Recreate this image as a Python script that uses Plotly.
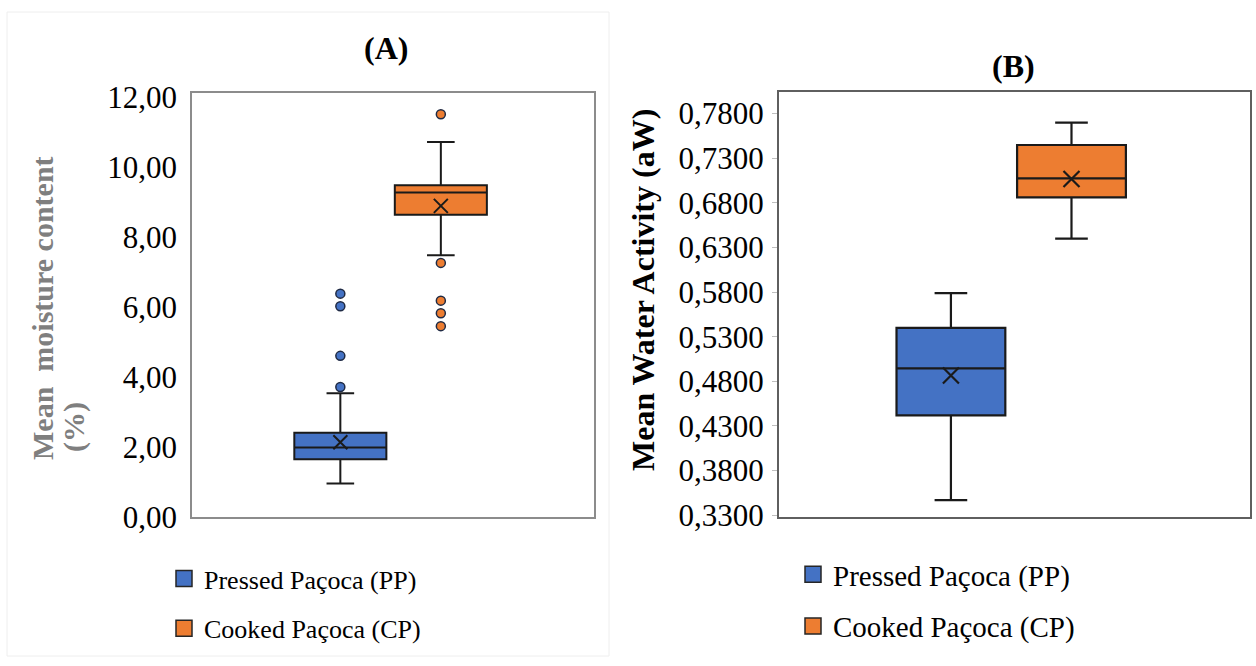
import plotly.graph_objects as go

# ---------------- data ----------------
groups = ["Pressed Paçoca (PP)", "Cooked Paçoca (CP)"]

# Panel A: mean moisture content (%)
moist_lower = [0.96, 7.49]
moist_q1 = [1.65, 8.65]
moist_median = [1.99, 9.28]
moist_q3 = [2.41, 9.49]
moist_upper = [3.54, 10.73]
moist_mean = [2.14, 8.90]
moist_outliers = [
    [3.72, 4.61, 6.03, 6.39],
    [5.46, 5.83, 6.19, 7.27, 11.52],
]
moist_ticks = [0, 2, 4, 6, 8, 10, 12]

# Panel B: mean water activity (aW)
aw_lower = [0.3468, 0.6398]
aw_q1 = [0.4418, 0.6862]
aw_median = [0.4945, 0.7075]
aw_q3 = [0.5400, 0.7448]
aw_upper = [0.5789, 0.7698]
aw_mean = [0.4866, 0.7067]
aw_ticks = [0.33, 0.38, 0.43, 0.48, 0.53, 0.58, 0.63, 0.68, 0.73, 0.78]

# ---------------- styles ----------------
colors = ["#4472C4", "#ED7D31"]
edge = "#1a1a1a"
serif = "Liberation Serif, Times New Roman, serif"
posA = [0.369, 0.619]
posB = [0.365, 0.621]
boxwA = 0.229
boxwB = 0.231

W, H = 1256, 666


def px(x):
    return x / W


def py(y):
    return 1 - y / H


fig = go.Figure()

# Panel A boxes
for i, g in enumerate(groups):
    fig.add_trace(go.Box(
        x=[posA[i]], q1=[moist_q1[i]], median=[moist_median[i]], q3=[moist_q3[i]],
        lowerfence=[moist_lower[i]], upperfence=[moist_upper[i]],
        width=boxwA, whiskerwidth=0.3, fillcolor=colors[i],
        line=dict(color=edge, width=2), boxpoints=False,
        showlegend=False, xaxis="x", yaxis="y", hoverinfo="skip"))
    fig.add_trace(go.Scatter(
        x=[posA[i]] * len(moist_outliers[i]), y=moist_outliers[i], mode="markers",
        marker=dict(symbol="circle", size=9, color=colors[i],
                    line=dict(color="#1f2a44", width=1.5)),
        showlegend=False, xaxis="x", yaxis="y", hoverinfo="skip"))
    fig.add_trace(go.Scatter(
        x=[posA[i]], y=[moist_mean[i]], mode="markers",
        marker=dict(symbol="x-thin", size=14, line=dict(color=edge, width=2)),
        showlegend=False, xaxis="x", yaxis="y", hoverinfo="skip"))

# Panel B boxes
for i, g in enumerate(groups):
    fig.add_trace(go.Box(
        x=[posB[i]], q1=[aw_q1[i]], median=[aw_median[i]], q3=[aw_q3[i]],
        lowerfence=[aw_lower[i]], upperfence=[aw_upper[i]],
        width=boxwB, whiskerwidth=0.3, fillcolor=colors[i],
        line=dict(color=edge, width=2.2), boxpoints=False,
        showlegend=False, xaxis="x2", yaxis="y2", hoverinfo="skip"))
    fig.add_trace(go.Scatter(
        x=[posB[i]], y=[aw_mean[i]], mode="markers",
        marker=dict(symbol="x-thin", size=16, line=dict(color=edge, width=2.2)),
        showlegend=False, xaxis="x2", yaxis="y2", hoverinfo="skip"))

# Legend entries
for i, g in enumerate(groups):
    fig.add_trace(go.Scatter(
        x=[None], y=[None], mode="markers", name=g, legendgroup="a%d" % i,
        marker=dict(symbol="square", size=16, color=colors[i],
                    line=dict(color="#262626", width=1.5)),
        legend="legend", xaxis="x", yaxis="y"))
    fig.add_trace(go.Scatter(
        x=[None], y=[None], mode="markers", name=g, legendgroup="b%d" % i,
        marker=dict(symbol="square", size=16, color=colors[i],
                    line=dict(color="#262626", width=1.5)),
        legend="legend2", xaxis="x2", yaxis="y2"))

frameA = "#8c8c8c"
frameB = "#5f5f5f"

fig.update_layout(
    width=W, height=H,
    margin=dict(l=0, r=0, t=0, b=0, autoexpand=False),
    paper_bgcolor="white", plot_bgcolor="white",
    separators=", ",
    font=dict(family=serif, color="black"),
    xaxis=dict(domain=[px(192), px(594)], range=[0, 1], anchor="y",
               showticklabels=False, showgrid=False, zeroline=False,
               showline=True, mirror=True, linecolor=frameA, linewidth=1.5,
               ticks=""),
    yaxis=dict(domain=[py(517), py(93)], range=[0, 12.13], anchor="x",
               tickvals=moist_ticks, tickformat=".2f",
               tickfont=dict(family=serif, size=31, color="black"),
               showgrid=False, zeroline=False, showline=True, mirror=True,
               linecolor=frameA, linewidth=1.5, ticks="", ticklabelstandoff=7),
    xaxis2=dict(domain=[px(779), px(1250)], range=[0, 1], anchor="y2",
                showticklabels=False, showgrid=False, zeroline=False,
                showline=True, mirror=True, linecolor=frameB, linewidth=2,
                ticks=""),
    yaxis2=dict(domain=[py(517), py(92)], range=[0.328, 0.8042], anchor="x2",
                tickvals=aw_ticks, tickformat=".4f",
                tickfont=dict(family=serif, size=31, color="black"),
                showgrid=False, zeroline=False, showline=True, mirror=True,
                linecolor=frameB, linewidth=2, ticks="outside", ticklen=5,
                tickcolor="#bfbfbf", ticklabelstandoff=2),
    legend=dict(x=px(164), y=py(555), xanchor="left", yanchor="top",
                font=dict(family=serif, size=26, color="black"),
                bgcolor="rgba(0,0,0,0)", traceorder="grouped",
                tracegroupgap=13, itemclick=False, itemdoubleclick=False),
    legend2=dict(x=px(793), y=py(549), xanchor="left", yanchor="top",
                 font=dict(family=serif, size=29, color="black"),
                 bgcolor="rgba(0,0,0,0)", traceorder="grouped",
                 tracegroupgap=11, itemclick=False, itemdoubleclick=False),
    showlegend=True,
)

# faint outer frame around panel A
fig.add_shape(type="rect", xref="paper", yref="paper",
              x0=px(7), x1=px(609), y0=py(656), y1=py(12),
              line=dict(color="#eeeeee", width=1), layer="below")

# panel titles
fig.add_annotation(text="<b>(A)</b>", x=px(386), y=py(48), xref="paper", yref="paper",
                   xanchor="center", yanchor="middle",
                   showarrow=False, font=dict(family=serif, size=32, color="black"))
fig.add_annotation(text="<b>(B)</b>", x=px(1013), y=py(66), xref="paper", yref="paper",
                   xanchor="center", yanchor="middle",
                   showarrow=False, font=dict(family=serif, size=32, color="black"))

# y axis titles
fig.add_annotation(text="<b>Mean\u00a0 moisture content</b>",
                   x=px(42), y=py(462), xref="paper", yref="paper",
                   xanchor="center", yanchor="bottom",
                   showarrow=False, textangle=-90,
                   font=dict(family=serif, size=30, color="#7f7f7f"))
fig.add_annotation(text="<b>(%)</b>",
                   x=px(74), y=py(454), xref="paper", yref="paper",
                   xanchor="center", yanchor="bottom",
                   showarrow=False, textangle=-90,
                   font=dict(family=serif, size=30, color="#7f7f7f"))
fig.add_annotation(text="<b>Mean Water Activity (aW)</b>",
                   x=px(643), y=py(290), xref="paper", yref="paper",
                   xanchor="center", yanchor="middle",
                   showarrow=False, textangle=-90,
                   font=dict(family=serif, size=32, color="black"))

fig.write_html("out.html")
